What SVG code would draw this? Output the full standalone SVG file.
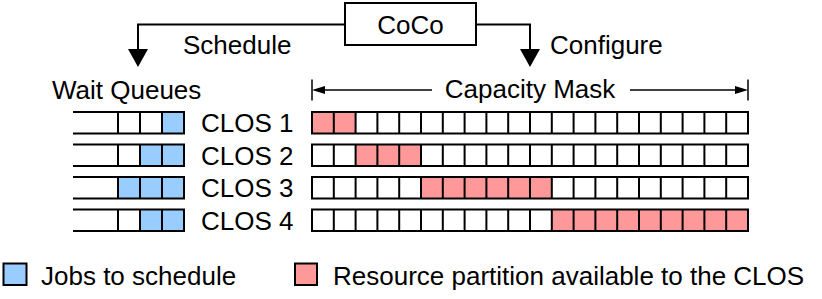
<svg xmlns="http://www.w3.org/2000/svg" xmlns:xlink="http://www.w3.org/1999/xlink" width="822" height="299" viewBox="0 0 822 299">
  <style>
    text { font-family: "Liberation Sans", Arial, Helvetica, sans-serif; font-size: 26px; fill: #000; }
    .box { fill: #fff; stroke: #000; stroke-width: 2; }
    .cell { fill: none; stroke: #000; stroke-width: 2; }
    .job { fill: #99ccff; }
    .part { fill: #ff9999; }
    .conn { fill: none; stroke: #000; stroke-width: 2; }
    .dim { fill: none; stroke: #000; stroke-width: 1.5; }
  </style>
  <defs>
    <marker id="bigArrow" viewBox="0 0 18 20" refX="11" refY="10" markerWidth="18" markerHeight="20" markerUnits="userSpaceOnUse" orient="auto">
      <path d="M0,0 L18,10 L0,20 Z" fill="#000"/>
    </marker>
    <marker id="smallArrow" viewBox="0 0 13 8" refX="9" refY="4" markerWidth="13" markerHeight="8" markerUnits="userSpaceOnUse" orient="auto">
      <path d="M0,0 L13,4 L0,8 Z" fill="#000"/>
    </marker>
    <g id="queueRow">
      <path class="cell" d="M73,0 H184 V21.5 H73 M118,0 V21.5 M140,0 V21.5 M162,0 V21.5"/>
    </g>
    <g id="maskRow">
      <rect class="cell" x="312" y="0" width="436" height="21.5"/>
      <path class="cell" d="M333.8,0V21.5 M355.6,0V21.5 M377.4,0V21.5 M399.2,0V21.5 M421,0V21.5 M442.8,0V21.5 M464.6,0V21.5 M486.4,0V21.5 M508.2,0V21.5 M530,0V21.5 M551.8,0V21.5 M573.6,0V21.5 M595.4,0V21.5 M617.2,0V21.5 M639,0V21.5 M660.8,0V21.5 M682.6,0V21.5 M704.4,0V21.5 M726.2,0V21.5"/>
    </g>
  </defs>

  <rect x="0" y="0" width="822" height="299" fill="#fff"/>

  <g id="connectors">
    <path class="conn" d="M345,24.5 H138 V60" marker-end="url(#bigArrow)"/>
    <path class="conn" d="M476,24.5 H530 V60" marker-end="url(#bigArrow)"/>
    <path class="dim" d="M432,90 H316" marker-end="url(#smallArrow)"/>
    <path class="dim" d="M630,90 H744" marker-end="url(#smallArrow)"/>
    <path class="dim" d="M312,79.5 V100.5 M748,79.5 V100.5"/>
    <text x="183" y="54">Schedule</text>
    <text x="550" y="54">Configure</text>
  </g>

  <g id="coco">
    <rect class="box" x="345" y="3" width="131" height="42"/>
    <text x="410.5" y="33.5" text-anchor="middle">CoCo</text>
  </g>

  <g id="wait-queues">
    <text x="52" y="99">Wait Queues</text>
  </g>

  <g id="capacity-mask-label">
    <text x="530" y="98" text-anchor="middle">Capacity Mask</text>
  </g>

  <g id="clos1" transform="translate(0,112)">
    <rect class="job" x="162" y="0" width="22" height="21.5"/>
    <use xlink:href="#queueRow" href="#queueRow"/>
    <text x="201" y="20">CLOS 1</text>
    <rect class="part" x="312" y="0" width="43.6" height="21.5"/>
    <use xlink:href="#maskRow" href="#maskRow"/>
  </g>

  <g id="clos2" transform="translate(0,144.5)">
    <rect class="job" x="140" y="0" width="44" height="21.5"/>
    <use xlink:href="#queueRow" href="#queueRow"/>
    <text x="201" y="20">CLOS 2</text>
    <rect class="part" x="355.6" y="0" width="65.4" height="21.5"/>
    <use xlink:href="#maskRow" href="#maskRow"/>
  </g>

  <g id="clos3" transform="translate(0,177)">
    <rect class="job" x="118" y="0" width="66" height="21.5"/>
    <use xlink:href="#queueRow" href="#queueRow"/>
    <text x="201" y="20">CLOS 3</text>
    <rect class="part" x="421" y="0" width="130.8" height="21.5"/>
    <use xlink:href="#maskRow" href="#maskRow"/>
  </g>

  <g id="clos4" transform="translate(0,209.5)">
    <rect class="job" x="140" y="0" width="44" height="21.5"/>
    <use xlink:href="#queueRow" href="#queueRow"/>
    <text x="201" y="20">CLOS 4</text>
    <rect class="part" x="551.8" y="0" width="196.2" height="21.5"/>
    <use xlink:href="#maskRow" href="#maskRow"/>
  </g>

  <g id="legend-jobs">
    <rect class="job" x="3.5" y="263.5" width="23" height="21.5" stroke="#000" stroke-width="2"/>
    <text x="41" y="285">Jobs to schedule</text>
  </g>

  <g id="legend-partition">
    <rect class="part" x="295" y="263.5" width="22" height="21.5" stroke="#000" stroke-width="2"/>
    <text x="333" y="285">Resource partition available to the CLOS</text>
  </g>
</svg>
